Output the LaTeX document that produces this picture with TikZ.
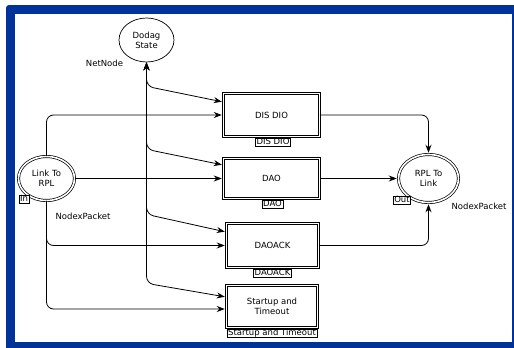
\documentclass[tikz,border=0pt]{standalone}
\usepackage{fontspec}
\setmainfont{DejaVu Sans}
\usetikzlibrary{shapes.geometric,arrows.meta,calc}
\definecolor{framecol}{RGB}{0,51,153}
\begin{document}
\begin{tikzpicture}[x=1pt,y=-1pt,
  >={Stealth[length=8pt,width=6pt]},
  every node/.style={font=\fontsize{8.5}{10}\selectfont},
  place/.style={ellipse,draw,line width=0.7pt,align=center,inner sep=0pt},
  port/.style={place,double,double distance=1.6pt},
  trans/.style={rectangle,draw,line width=0.7pt,double,double distance=1.6pt,align=center,inner sep=0pt},
  tag/.style={draw,fill=white,line width=0.5pt,inner xsep=1pt,inner ysep=0.6pt,text height=6.4pt,text depth=0.9pt,font=\fontsize{8.5}{9}\selectfont},
  lbl/.style={inner sep=0pt},
  arc/.style={draw,line width=0.8pt,rounded corners=7pt,->,shorten >=1.4pt},
  biarc/.style={draw,line width=0.8pt,rounded corners=7pt,<->,shorten >=1.4pt}]
\useasboundingbox (0,0) rectangle (514,348);
% window frame
\fill[framecol,rounded corners=3pt] (6,5) rectangle (530,360);
\fill[white] (15,14) rectangle (511.5,342);

% places
\node[place,minimum width=55pt,minimum height=44pt] (dodag) at (146.5,40) {Dodag\\State};
\node[port,minimum width=56pt,minimum height=44pt] (link) at (46.5,178.5) {Link To\\RPL};
\node[port,minimum width=60pt,minimum height=48pt] (rpl) at (428.5,178.5) {RPL To\\Link};

% transitions
\node[trans,minimum width=96pt,minimum height=43pt] (disdio) at (271.5,115) {DIS DIO};
\node[trans,minimum width=96pt,minimum height=40pt] (dao) at (271.5,178.5) {DAO};
\node[trans,minimum width=92pt,minimum height=44pt] (daoack) at (272.5,245.5) {DAOACK};
\node[trans,minimum width=91pt,minimum height=42pt] (startup) at (272,306.5) {Startup and\\Timeout};

% colour set labels
\node[lbl] (netnode) at (104.5,63) {NetNode};
\node[lbl] (typein) at (83,216) {NodexPacket};
\node[lbl] (typeout) at (479,206) {NodexPacket};

% arcs from the input port
\draw[arc] (link.north) |- (disdio.west);
\draw[arc] (link.east) -- (dao.west);
\draw[arc] (link.south) |- (daoack.west);
\draw[arc] (link.south) |- ($(startup.west)+(0,2.5)$);

% arcs to and from the shared state
\draw[biarc] (dodag.south) -- ++(0,24) -- ($(disdio.west)+(0,-13)$);
\draw[biarc] (dodag.south) -- ++(0,87) -- ($(dao.west)+(0,-13.5)$);
\draw[biarc] (dodag.south) -- ++(0,152) -- ($(daoack.west)+(0,-13.5)$);
\draw[biarc] (dodag.south) -- ++(0,221) -- ($(startup.west)+(0,-9.5)$);

% arcs to the output port
\draw[arc] (disdio.east) -| (rpl.north);
\draw[arc] (dao.east) -- (rpl.west);
\draw[arc] (daoack.east) -| (rpl.south);

% tags
\node[tag] (intag) at (24,199) {In};
\node[tag] (outtag) at (402,200) {Out};
\node[tag] (disdiotag) at (273,142) {DIS DIO};
\node[tag] (daotag) at (272.5,204) {DAO};
\node[tag] (daoacktag) at (272.5,273) {DAOACK};
\node[tag] (startuptag) at (272,333) {Startup and Timeout};
\end{tikzpicture}
\end{document}
